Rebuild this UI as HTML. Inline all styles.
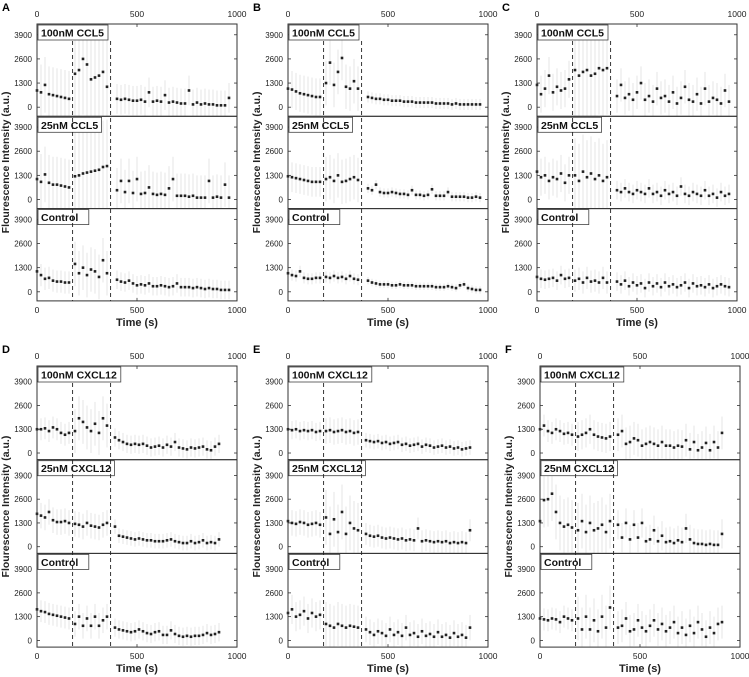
<!DOCTYPE html>
<html><head><meta charset="utf-8"><style>
html,body{margin:0;padding:0;background:#fff}
svg{display:block}
text{font-family:"Liberation Sans",Arial,sans-serif}
</style></head><body>
<svg id="fig" width="749" height="677" viewBox="0 0 749 677"></svg>
<script>
const timesAC=[0,20,40,60,80,100,120,140,160,190,210,230,250,270,290,310,330,350,400,420,440,460,480,500,520,540,560,580,600,620,640,660,680,700,720,740,760,780,800,820,840,860,880,900,920,940,960];
const timesDF=[0,20,40,60,80,100,120,140,160,190,210,230,250,270,290,310,330,350,390,410,430,450,470,490,510,530,550,570,590,610,630,650,670,690,710,730,750,770,790,810,830,850,870,890,910];
const yTicks=[0,1300,2600,3900];
const xTicks=[0,500,1000];
const panelLetters=["A","B","C","D","E","F"];
const subLabelsCCL5=["100nM CCL5","25nM CCL5","Control"];
const subLabelsCXCL12=["100nM CXCL12","25nM CXCL12","Control"];
const A1=[900,800,1200,700,650,600,550,500,450,1800,2000,2600,2300,1500,1600,1700,1900,1100,450,400,450,400,350,350,400,300,800,300,350,300,650,250,300,250,200,200,900,150,250,150,200,150,150,100,100,100,500];
const A2=[1100,950,1350,900,800,800,750,700,650,1250,1300,1400,1450,1500,1550,1600,1750,1800,500,1000,400,1000,350,1100,300,350,650,300,250,300,250,600,1100,200,200,200,150,200,100,100,100,1000,100,150,100,800,100];
const A3=[1100,900,700,750,600,550,550,500,500,1500,1000,1300,900,1200,1100,800,1700,1000,650,550,500,600,450,350,400,350,450,300,300,350,300,250,300,450,250,250,250,200,250,200,150,200,150,150,100,100,100];
const B1=[1000,950,850,750,700,650,600,550,550,1300,2400,1200,1900,2650,1100,1000,1400,1000,550,500,450,450,400,400,350,350,350,300,300,300,250,250,250,250,250,200,200,200,200,150,200,150,150,150,150,150,150];
const B2=[1250,1200,1150,1100,1050,1000,950,950,950,1100,1200,1000,1300,950,1000,1100,1200,1050,600,500,800,400,350,350,400,350,300,300,250,500,250,250,200,250,550,200,200,200,400,150,150,150,150,100,100,150,100];
const B3=[1000,900,850,1100,750,700,700,750,750,800,750,850,750,800,700,850,700,650,600,500,450,400,400,400,350,350,400,350,350,350,300,300,300,300,300,250,250,250,300,250,200,350,400,200,150,100,100];
const C1=[1200,700,1000,1700,800,1100,900,1000,1500,2000,1700,1900,2000,1700,1800,2100,2000,2100,600,1200,500,700,400,800,1300,400,600,300,1000,500,600,300,800,200,500,1100,400,300,700,200,1000,300,500,400,200,900,300];
const C2=[1500,1200,1300,1000,1200,1100,1400,900,1300,1300,1000,1500,1200,1400,1100,1300,1000,1200,500,400,600,400,300,500,400,300,600,300,400,200,500,300,400,200,700,300,200,400,300,200,500,200,300,100,400,200,300];
const C3=[800,700,650,700,750,600,900,700,750,600,700,500,750,550,600,500,750,500,550,400,600,300,500,350,450,200,500,300,450,250,500,300,400,250,350,500,200,450,300,350,250,400,200,300,400,300,250];
const D1=[1300,1300,1350,1200,1400,1300,1100,1000,1100,1200,1900,1700,1400,1200,1600,1100,1900,1500,850,700,600,500,450,500,450,500,400,300,350,400,300,450,350,600,300,250,200,300,250,300,350,200,150,350,500];
const D2=[1800,1700,1600,1900,1450,1350,1350,1400,1300,1250,1200,1100,1300,1150,1100,1050,1200,1300,1100,600,550,500,450,400,450,400,350,350,300,300,300,350,400,300,250,200,200,300,200,250,350,200,250,200,400];
const D3=[1700,1600,1550,1450,1400,1350,1300,1250,1200,900,1300,800,1200,800,1300,800,1100,1300,700,600,550,500,450,500,600,500,400,350,450,500,300,300,550,350,250,200,250,200,250,250,300,400,300,350,450];
const E1=[1300,1250,1300,1200,1250,1200,1250,1150,1200,1200,1250,1150,1200,1250,1150,1200,1100,1150,700,650,600,650,550,600,500,550,600,450,500,400,450,500,350,450,400,300,350,400,300,350,250,300,200,250,300];
const E2=[1400,1300,1250,1350,1300,1200,1250,1300,1200,1600,700,1500,800,1900,700,1300,1000,900,700,600,550,600,500,450,500,450,400,450,350,400,350,1000,300,350,300,250,300,250,300,200,250,200,250,200,900];
const E3=[1500,1700,1300,1400,1600,1200,1500,1300,1400,900,800,700,900,800,700,800,750,700,600,450,300,500,400,250,600,300,450,250,700,300,400,200,500,250,350,200,450,200,300,150,400,200,300,150,700];
const F1=[1300,1500,1200,1100,1300,1200,1050,1100,1000,900,1000,1100,1300,1000,900,850,800,900,1000,1200,500,600,800,700,400,500,600,500,400,600,400,400,300,400,350,700,200,600,150,300,550,150,600,300,1100];
const F2=[1400,2550,2600,2900,1900,1300,1100,1200,1050,900,1400,800,1300,900,1000,1200,800,1400,1200,500,1300,400,1200,500,1300,300,400,900,300,600,250,300,200,350,250,1000,400,200,150,150,100,150,100,100,700];
const F3=[1200,1150,1100,1200,1150,1000,1300,1200,1100,1200,600,1300,600,1100,500,1300,700,1800,700,800,1200,500,600,1100,700,500,800,1100,600,900,500,700,1000,400,700,300,800,400,1000,600,200,700,400,900,1000];
const errA=[[1500,3000,800],[1500,2500,1200],[600,1200,500]];
const errB=[[1000,1200,300],[800,1200,250],[300,300,200]];
const errC=[[1000,2500,900],[1000,2000,500],[500,600,500]];
const errD=[[600,1200,500],[700,700,400],[600,700,500]];
const errE=[[500,700,400],[700,1500,600],[800,1200,700]];
const errF=[[600,800,900],[1500,1500,800],[600,1200,900]];
const dashTimes=[178,368];

const svg=document.getElementById('fig');
const NS='http://www.w3.org/2000/svg';
function mk(tag,attrs,parent){const e=document.createElementNS(NS,tag);for(const k in attrs)e.setAttribute(k,attrs[k]);(parent||svg).appendChild(e);return e;}

const panels=[
 {x0:37,top:24,sh:92.3,ymin:-490,ymax:4480,times:timesAC,series:[A1,A2,A3],err:errA,labels:subLabelsCCL5},
 {x0:288,top:24,sh:92.3,ymin:-490,ymax:4480,times:timesAC,series:[B1,B2,B3],err:errB,labels:subLabelsCCL5},
 {x0:537,top:24,sh:92.3,ymin:-490,ymax:4480,times:timesAC,series:[C1,C2,C3],err:errC,labels:subLabelsCCL5},
 {x0:37,top:366,sh:93.7,ymin:-366,ymax:4760,times:timesDF,series:[D1,D2,D3],err:errD,labels:subLabelsCXCL12},
 {x0:288,top:366,sh:93.7,ymin:-366,ymax:4760,times:timesDF,series:[E1,E2,E3],err:errE,labels:subLabelsCXCL12},
 {x0:540,top:366,sh:93.7,ymin:-366,ymax:4760,times:timesDF,series:[F1,F2,F3],err:errF,labels:subLabelsCXCL12}
];
const W=200;
panels.forEach((p,pi)=>{
  const g=mk('g',{});
  
  
  const xs=t=>p.x0+t/1000*W;
  const bottom=p.top+p.sh*3;
  const lt=mk('text',{x:p.x0-35,y:p.top-13,'font-size':11,'font-weight':'bold'},g);lt.textContent=panelLetters[pi];
  
  
  xTicks.forEach(v=>{
    const a=mk('text',{x:xs(v),y:p.top-7,'font-size':8.5,'text-anchor':'middle',fill:'#222'},g);a.textContent=v;
    
    
    const b=mk('text',{x:xs(v),y:bottom+12,'font-size':8.5,'text-anchor':'middle',fill:'#222'},g);b.textContent=v;
    
    
    [p.top,bottom].forEach((yy,k)=>mk('line',{x1:xs(v),x2:xs(v),y1:yy,y2:yy+(k?-3:3),stroke:'#333','stroke-width':0.8},g));
  });
  const xt=mk('text',{x:p.x0+W/2,y:bottom+25,'font-size':11,'text-anchor':'middle','font-weight':'bold',fill:'#222'},g);xt.textContent='Time (s)';
  
  
  const yt=mk('text',{x:0,y:0,'font-size':10.5,'text-anchor':'middle','font-weight':'bold',fill:'#222',transform:`translate(${p.x0-28},${p.top+p.sh*1.5}) rotate(-90)`},g);yt.textContent='Flourescence Intensity (a.u.)';
  
  
  for(let s=0;s<3;s++){
    const st=p.top+s*p.sh;
    const ys=v=>st+(p.ymax-v)/(p.ymax-p.ymin)*p.sh;
    const sg=mk('g',{},g);
    
    
    const vals=p.series[s];
    vals.forEach((v,i)=>{
      const t=p.times[i];const seg=t<175?0:(t<370?1:2);const e=p.err[s][seg];
      const eb=mk('line',{x1:xs(t),x2:xs(t),y1:Math.max(ys(v+e),st),y2:Math.min(ys(v-e),st+p.sh),stroke:'#e6e6e6','stroke-width':1},sg);
      
      
    });
    yTicks.forEach(v=>{
      const tl=mk('text',{x:p.x0-5,y:ys(v)+3,'font-size':8,'text-anchor':'end',fill:'#222'},sg);tl.textContent=v;
      
      
      mk('line',{x1:p.x0,x2:p.x0+3,y1:ys(v),y2:ys(v),stroke:'#333','stroke-width':0.8},sg);
      mk('line',{x1:p.x0+W,x2:p.x0+W-3,y1:ys(v),y2:ys(v),stroke:'#333','stroke-width':0.8},sg);
    });
    vals.forEach((v,i)=>{
      const pt=mk('rect',{x:xs(p.times[i])-1.3,y:ys(v)-1.3,width:2.6,height:2.6,fill:'#222'},sg);
      
      
    });
    mk('rect',{x:p.x0,y:st,width:W,height:p.sh,fill:'none',stroke:'#333','stroke-width':1},sg);
    const lab=p.labels[s];
    const box=mk('rect',{x:p.x0+1,y:st+1,width:lab.length*6.4+6,height:15,fill:'#fff',stroke:'#444','stroke-width':0.8},sg);
    
    
    const lx=mk('text',{x:p.x0+4,y:st+12.5,'font-size':10.5,'font-weight':'bold',fill:'#111'},sg);lx.textContent=lab;
    
    
  }
  dashTimes.forEach(t=>{
    const d=mk('line',{x1:xs(t),x2:xs(t),y1:p.top+17,y2:bottom,stroke:'#222','stroke-width':0.9,'stroke-dasharray':'4,3'},g);
    
    
  });
});
</script>
</body></html>
